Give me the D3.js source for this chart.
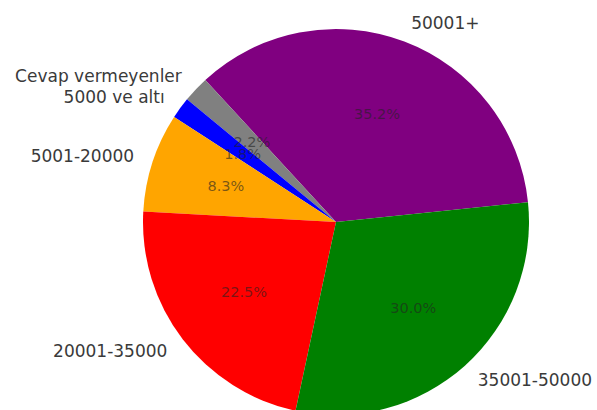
<!DOCTYPE html>
<html>
<head>
<meta charset="utf-8">
<script src="https://cdn.jsdelivr.net/npm/d3@7/dist/d3.min.js"></script>
<style>
  html, body { margin: 0; padding: 0; background: #fff; }
  svg { display: block; }
</style>
</head>
<body>
<svg id="chart" width="597" height="410"></svg>
<script>
const categories = ["50001+", "Cevap vermeyenler", "5000 ve altı", "5001-20000", "20001-35000", "35001-50000"];
const values = [35.2, 2.2, 1.8, 8.3, 22.5, 30.0];
const percentLabels = ["35.2%", "2.2%", "1.8%", "8.3%", "22.5%", "30.0%"];
const colors = ["#800080", "#808080", "#0000ff", "#ffa500", "#ff0000", "#008000"];

const W = 597, H = 410;
const cx = 336, cy = 222, R = 193;
const startDeg = 5.9; // math angle, counterclockwise from 3 o'clock

const svg = d3.select("#chart");
const g = svg.append("g").attr("transform", `translate(${cx},${cy})`);

const data = categories.map((c, i) => ({ cat: c, value: values[i], pct: percentLabels[i], color: colors[i] }));

const start = Math.PI / 2 - startDeg * Math.PI / 180;
const pie = d3.pie().value(d => d.value).sort(null)
  .startAngle(start).endAngle(start - 2 * Math.PI);
const arcs = pie(data);

const arc = d3.arc().innerRadius(0).outerRadius(R);

g.selectAll("path.slice").data(arcs).join("path")
  .attr("class", "slice")
  .attr("d", arc)
  .attr("fill", d => d.data.color);

const mid = d => (d.startAngle + d.endAngle) / 2;

// percent labels at 0.6 R
g.selectAll("text.pct").data(arcs).join("text")
  .attr("class", "pct")
  .attr("x", d => 0.6 * R * Math.sin(mid(d)))
  .attr("y", d => -0.6 * R * Math.cos(mid(d)))
  .attr("text-anchor", "middle")
  .attr("dominant-baseline", "central")
  .attr("font-family", "DejaVu Sans, sans-serif")
  .attr("font-size", 14.5)
  .attr("fill", "#222")
  .attr("fill-opacity", 0.6)
  .text(d => d.data.pct);

// category labels at 1.1 R
g.selectAll("text.lab").data(arcs).join("text")
  .attr("class", "lab")
  .attr("x", d => 1.1 * R * Math.sin(mid(d)))
  .attr("y", d => -1.1 * R * Math.cos(mid(d)))
  .attr("text-anchor", d => Math.sin(mid(d)) > 0 ? "start" : "end")
  .attr("dominant-baseline", "central")
  .attr("font-family", "DejaVu Sans, sans-serif")
  .attr("font-size", 17)
  .attr("fill", "#3a3a3a")
  .text(d => d.data.cat);
</script>
</body>
</html>
